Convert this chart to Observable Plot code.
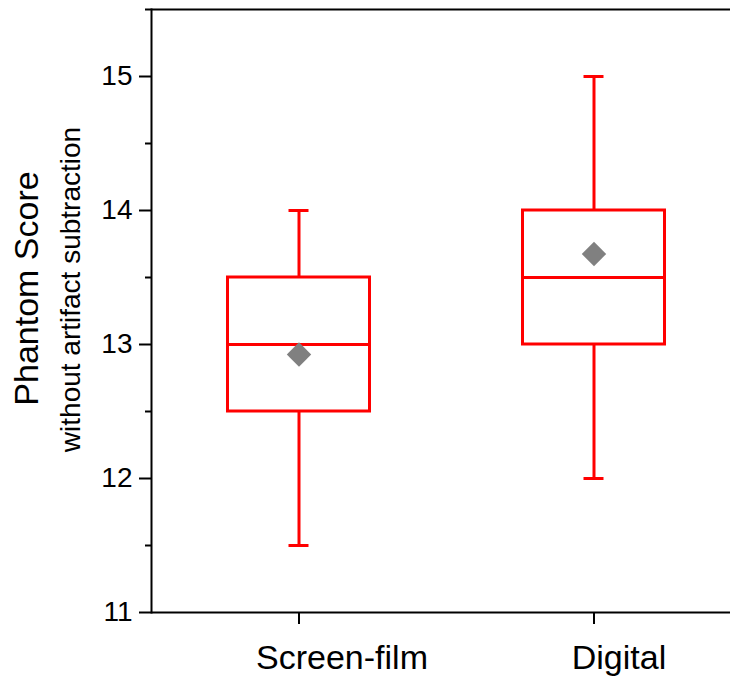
<!DOCTYPE html>
<html>
<head>
<meta charset="utf-8">
<script src="https://cdn.jsdelivr.net/npm/d3@7"></script>
<script src="https://cdn.jsdelivr.net/npm/@observablehq/plot@0.6"></script>
<style>
  html, body { margin: 0; padding: 0; background: white; }
</style>
</head>
<body>
<div id="chart"></div>
<script>
const categories = ["Screen-film", "Digital"];
const whiskerLow = [11.5, 12];
const q1 = [12.5, 13];
const median = [13, 13.5];
const q3 = [13.5, 14];
const whiskerHigh = [14, 15];
const mean = [12.925, 13.675];
const yTicks = [11, 12, 13, 14, 15];
const yMinorTicks = [11.5, 12.5, 13.5, 14.5, 15.5];
const yTitle = "Phantom Score";
const ySubtitle = "without artifact subtraction";

const data = categories.map((c, i) => ({
  cat: c, lo: whiskerLow[i], q1: q1[i], med: median[i], q3: q3[i], hi: whiskerHigh[i], mean: mean[i]
}));

const red = "#ff0000";
const labelStyle = { fontSize: 34, fill: "black", lineAnchor: "bottom", frameAnchor: "bottom", dy: 9 };
const chart = Plot.plot({
  width: 730,
  height: 677,
  marginLeft: 151,
  marginRight: 0,
  marginTop: 9,
  marginBottom: 65,
  style: { fontFamily: "'Liberation Sans', Arial, sans-serif", background: "white", color: "black" },
  x: { domain: categories, range: [151, 741], padding: 0, label: null, axis: null },
  y: { domain: [11, 15.5], label: null, axis: null },
  marks: [
    Plot.axisY(yTicks, { tickSize: 12, tickPadding: 7, fontSize: 28, strokeWidth: 2, label: null, tickFormat: d => d }),
    Plot.axisY(yMinorTicks, { tickSize: 6, strokeWidth: 2, label: null, tickFormat: () => "" }),
    Plot.axisX(categories, { tickSize: 12, strokeWidth: 2, label: null, tickFormat: () => "" }),
    Plot.text([data[0]], { x: "cat", text: "cat", dx: 43, ...labelStyle, dy: 56 }),
    Plot.text([data[1]], { x: "cat", text: "cat", dx: 25, ...labelStyle, dy: 56 }),
    Plot.ruleY([11], { strokeWidth: 2 }),
    Plot.ruleY([15.5], { strokeWidth: 2 }),
    Plot.frame({ anchor: "left", strokeWidth: 2 }),
    Plot.ruleX(data, { x: "cat", y1: "lo", y2: "q1", stroke: red, strokeWidth: 3 }),
    Plot.ruleX(data, { x: "cat", y1: "q3", y2: "hi", stroke: red, strokeWidth: 3 }),
    Plot.tickY(data, { x: "cat", y: "lo", insetLeft: 137.5, insetRight: 137.5, stroke: red, strokeWidth: 3 }),
    Plot.tickY(data, { x: "cat", y: "hi", insetLeft: 137.5, insetRight: 137.5, stroke: red, strokeWidth: 3 }),
    Plot.barY(data, { x: "cat", y1: "q1", y2: "q3", insetLeft: 76.5, insetRight: 76.5, fill: "white", stroke: red, strokeWidth: 3 }),
    Plot.tickY(data, { x: "cat", y: "med", insetLeft: 76.5, insetRight: 76.5, stroke: red, strokeWidth: 3 }),
    Plot.dot(data, { x: "cat", y: "mean", symbol: "diamond2", r: 11, fill: "#808080", stroke: "none" }),
    Plot.text([yTitle], { frameAnchor: "left", textAnchor: "middle", rotate: -90, dx: -124, dy: -22.5, fontSize: 34, fill: "black" }),
    Plot.text([ySubtitle], { frameAnchor: "left", textAnchor: "middle", rotate: -90, dx: -80, dy: -21.5, fontSize: 28, fill: "black" })
  ]
});
document.getElementById("chart").appendChild(chart);
</script>
</body>
</html>
